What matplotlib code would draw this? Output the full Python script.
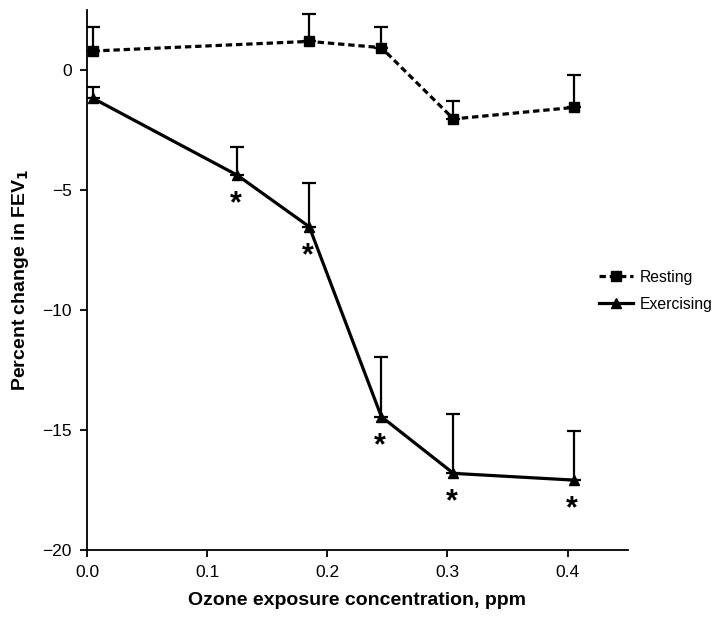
import numpy as np
import matplotlib.pyplot as plt

plt.rcParams['font.family'] = ['Liberation Sans', 'DejaVu Sans']

# Dados
x_rest = [0.005, 0.185, 0.245, 0.305, 0.405]
y_rest = [0.79, 1.19, 0.93, -2.04, -1.56]
err_rest = [1.00, 1.13, 0.85, 0.76, 1.34]

x_exer = [0.005, 0.125, 0.185, 0.245, 0.305, 0.405]
y_exer = [-1.18, -4.38, -6.53, -14.44, -16.80, -17.08]
err_exer = [0.49, 1.16, 1.84, 2.47, 2.48, 2.03]

# pontos com diferença significativa (asterisco)
signif = [1, 2, 3, 4, 5]

fig = plt.figure(figsize=(7.19, 6.21), dpi=100)
ax = fig.add_axes([0.121, 0.114, 0.752, 0.870])

# Barras de erro (somente para cima)
ax.errorbar(x_rest, y_rest, yerr=[np.zeros(len(err_rest)), err_rest], fmt='none',
            ecolor='black', elinewidth=1.6, capsize=5, capthick=1.6)
ax.errorbar(x_exer, y_exer, yerr=[np.zeros(len(err_exer)), err_exer], fmt='none',
            ecolor='black', elinewidth=1.6, capsize=5, capthick=1.6)

ax.plot(x_rest, y_rest, color='black', linestyle=(0, (2, 1.2)), linewidth=2.3,
        marker='s', markersize=6.5, label='Resting')
ax.plot(x_exer, y_exer, color='black', linestyle='-', linewidth=2.3,
        marker='^', markersize=7.5, label='Exercising')

for i in signif:
    ax.annotate('*', (x_exer[i], y_exer[i]), xytext=(-1, -21), textcoords='offset points',
                ha='center', va='center', fontsize=22, fontweight='bold')

ax.set_xlim(0, 0.45)
ax.set_ylim(-20, 2.5)
ax.set_xticks([0.0, 0.1, 0.2, 0.3, 0.4])
ax.set_xticklabels(['0.0', '0.1', '0.2', '0.3', '0.4'])
ax.set_yticks([0, -5, -10, -15, -20])
ax.set_yticklabels(['0', '\u22125', '\u221210', '\u221215', '\u221220'])

ax.spines['top'].set_visible(False)
ax.spines['right'].set_visible(False)
ax.spines['left'].set_linewidth(1.3)
ax.spines['bottom'].set_linewidth(1.3)
ax.tick_params(direction='out', length=5, width=1.3, labelsize=12.5, pad=6)

ax.set_xlabel('Ozone exposure concentration, ppm', fontsize=14, fontweight='bold', labelpad=8)
ax.set_ylabel('Percent change in FEV$_\\mathbf{1}$', fontsize=14, fontweight='bold', labelpad=8)

leg = ax.legend(loc='center left', bbox_to_anchor=(0.935, 0.48), frameon=False,
                handlelength=2.2, fontsize=11.3, handletextpad=0.4, labelspacing=0.75,
                borderaxespad=0)

fig.savefig('out.png', dpi=100)
